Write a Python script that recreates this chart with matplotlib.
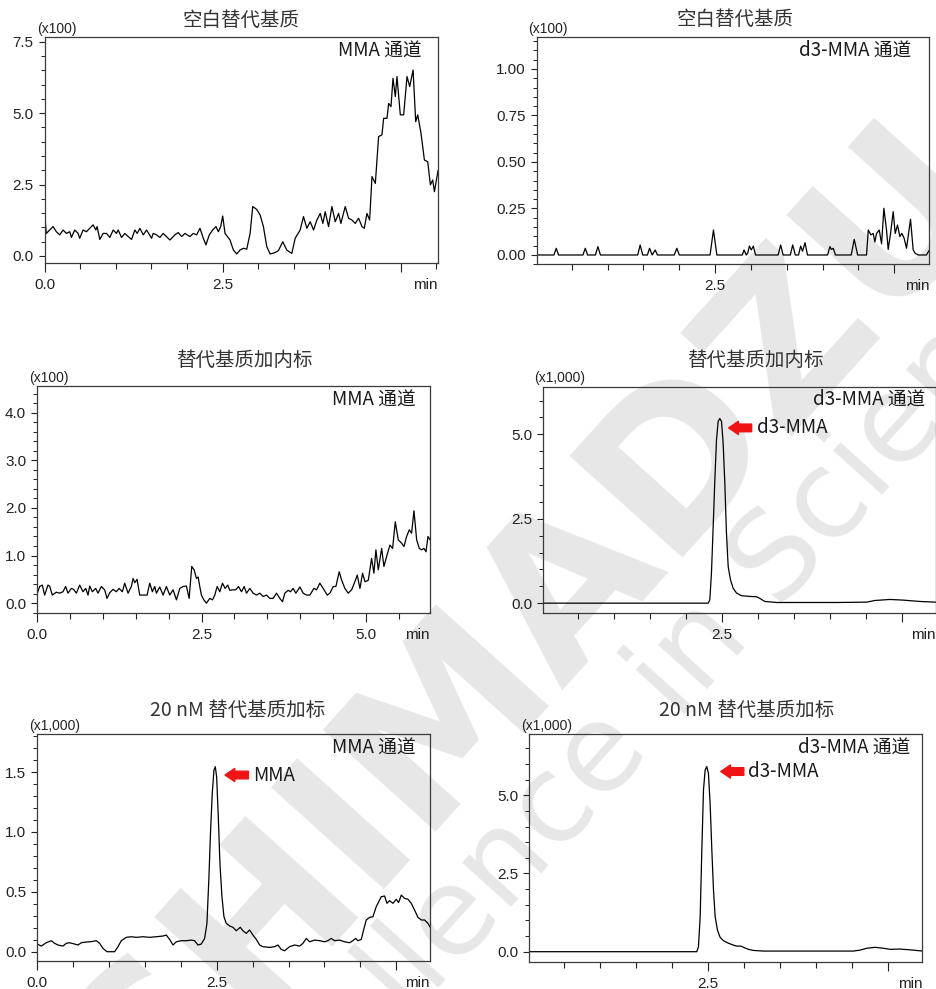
import matplotlib
matplotlib.use("Agg")
import matplotlib.pyplot as plt
from matplotlib.ticker import FixedLocator, MultipleLocator, FixedFormatter

# ---------------- chromatogram data (time in min, intensity in axis units) ----------------
# MMA channel, blank surrogate matrix (x100)
blank_mma_t = [0.000, 0.023, 0.070, 0.117, 0.164, 0.211, 0.258, 0.305, 0.352, 0.375,
               0.422, 0.469, 0.492, 0.539, 0.586, 0.633, 0.680, 0.718, 0.736, 0.774,
               0.821, 0.868, 0.915, 0.962, 1.008, 1.032, 1.079, 1.126, 1.173, 1.220,
               1.266, 1.299, 1.337, 1.384, 1.431, 1.501, 1.524, 1.571, 1.618, 1.665,
               1.759, 1.829, 1.876, 1.923, 1.970, 2.040, 2.087, 2.134, 2.181, 2.228,
               2.265, 2.312, 2.359, 2.406, 2.439, 2.472, 2.500, 2.533, 2.603, 2.650,
               2.697, 2.744, 2.791, 2.838, 2.885, 2.922, 2.978, 3.025, 3.072, 3.119,
               3.166, 3.236, 3.283, 3.344, 3.400, 3.471, 3.518, 3.588, 3.635, 3.682,
               3.729, 3.776, 3.823, 3.870, 3.907, 3.940, 3.987, 4.034, 4.081, 4.128,
               4.160, 4.221, 4.268, 4.315, 4.362, 4.409, 4.456, 4.489, 4.526, 4.564,
               4.597, 4.644, 4.690, 4.737, 4.761, 4.808, 4.831, 4.864, 4.892, 4.925,
               4.948, 4.995, 5.042, 5.089, 5.127, 5.174, 5.211, 5.239, 5.286, 5.333,
               5.380, 5.417, 5.450, 5.474, 5.525]
blank_mma_v = [1.44, 0.79, 0.91, 1.03, 0.85, 0.74, 0.91, 0.79, 0.85, 0.65,
               0.91, 0.79, 0.62, 0.91, 0.85, 0.97, 1.09, 0.91, 1.03, 0.58,
               0.79, 0.79, 0.65, 0.91, 0.79, 0.91, 0.65, 0.79, 0.68, 0.58,
               0.91, 0.79, 0.97, 0.74, 0.91, 0.62, 0.79, 0.74, 0.65, 0.79,
               0.56, 0.74, 0.82, 0.68, 0.79, 0.68, 0.79, 0.74, 0.97, 0.62,
               0.39, 0.74, 0.91, 1.03, 0.85, 1.03, 1.40, 0.79, 0.56, 0.21,
               0.07, 0.21, 0.27, 0.24, 0.79, 1.73, 1.63, 1.44, 1.03, 0.33,
               0.07, 0.12, 0.19, 0.50, 0.21, 0.09, 0.62, 0.91, 1.38, 0.97,
               1.20, 0.91, 1.26, 1.49, 1.14, 1.55, 1.03, 1.73, 1.20, 1.49,
               1.14, 1.73, 1.32, 1.26, 1.14, 1.32, 1.03, 0.97, 1.49, 1.26,
               2.78, 2.54, 4.18, 4.24, 4.82, 4.82, 5.34, 5.23, 6.22, 5.58,
               6.28, 4.94, 4.94, 6.28, 5.93, 6.51, 4.70, 4.94, 4.29, 3.36,
               3.30, 2.49, 2.66, 2.25, 2.99]

# d3-MMA channel, blank surrogate matrix (x100)
blank_d3_t = [0.000, 0.250, 0.283, 0.315, 0.655, 0.688, 0.720, 0.830, 0.864, 0.900,
              1.420, 1.454, 1.490, 1.555, 1.585, 1.622, 1.664, 1.695,
              1.930, 1.966, 2.000, 2.430, 2.477, 2.525,
              2.880, 2.904, 2.935, 2.955, 2.979, 3.005, 3.034, 3.065,
              3.380, 3.415, 3.450, 3.550, 3.583, 3.620,
              3.665, 3.694, 3.720, 3.755, 3.790,
              4.070, 4.103, 4.125, 4.150, 4.180, 4.400, 4.442, 4.490,
              4.614, 4.638, 4.675, 4.707, 4.730, 4.754, 4.791, 4.824, 4.856, 4.893,
              4.916, 4.949, 4.986, 5.014, 5.046, 5.079, 5.107, 5.139, 5.172, 5.195,
              5.228, 5.265, 5.293, 5.335, 5.450, 5.485]
blank_d3_v = [0.000, 0.000, 0.036, 0.000, 0.000, 0.036, 0.000, 0.000, 0.045, 0.000,
              0.000, 0.054, 0.000, 0.000, 0.036, 0.000, 0.027, 0.000,
              0.000, 0.036, 0.000, 0.000, 0.134, 0.000,
              0.000, 0.027, 0.000, 0.010, 0.048, 0.027, 0.048, 0.000,
              0.000, 0.054, 0.000, 0.000, 0.054, 0.000,
              0.000, 0.048, 0.020, 0.066, 0.000,
              0.000, 0.045, 0.030, 0.036, 0.000, 0.000, 0.084, 0.000,
              0.000, 0.134, 0.108, 0.116, 0.070, 0.116, 0.134, 0.060, 0.251, 0.134,
              0.030, 0.116, 0.233, 0.116, 0.161, 0.099, 0.116, 0.090, 0.036, 0.100,
              0.192, 0.027, 0.009, 0.000, 0.000, 0.023]

# MMA channel, surrogate matrix + internal standard (x100)
is_mma_t = [0.000, 0.036, 0.076, 0.112, 0.162, 0.188, 0.228, 0.289, 0.340, 0.391,
            0.431, 0.467, 0.518, 0.553, 0.594, 0.645, 0.695, 0.736, 0.772, 0.797,
            0.838, 0.888, 0.924, 0.975, 1.025, 1.061, 1.102, 1.152, 1.203, 1.244,
            1.294, 1.330, 1.381, 1.431, 1.457, 1.482, 1.518, 1.558, 1.619, 1.670,
            1.711, 1.751, 1.787, 1.812, 1.863, 1.914, 1.964, 2.015, 2.066, 2.117,
            2.168, 2.218, 2.269, 2.310, 2.350, 2.386, 2.421, 2.447, 2.472, 2.497,
            2.533, 2.574, 2.624, 2.665, 2.701, 2.736, 2.777, 2.817, 2.858, 2.898,
            2.929, 2.970, 3.020, 3.061, 3.107, 3.147, 3.183, 3.234, 3.284, 3.335,
            3.386, 3.437, 3.487, 3.538, 3.589, 3.640, 3.690, 3.731, 3.766, 3.817,
            3.853, 3.893, 3.934, 3.995, 4.046, 4.096, 4.147, 4.208, 4.249, 4.299,
            4.350, 4.411, 4.452, 4.503, 4.543, 4.594, 4.629, 4.680, 4.731, 4.782,
            4.832, 4.868, 4.909, 4.949, 4.985, 5.036, 5.086, 5.122, 5.152, 5.188,
            5.239, 5.274, 5.315, 5.365, 5.406, 5.447, 5.492, 5.543, 5.579, 5.619,
            5.660, 5.695, 5.731, 5.772, 5.812, 5.848, 5.883, 5.914, 5.944, 5.985]
is_mma_v = [0.21, 0.35, 0.38, 0.17, 0.38, 0.36, 0.17, 0.23, 0.21, 0.24,
            0.35, 0.21, 0.31, 0.29, 0.21, 0.38, 0.24, 0.31, 0.17, 0.36,
            0.24, 0.31, 0.21, 0.35, 0.28, 0.10, 0.22, 0.29, 0.24, 0.31,
            0.24, 0.42, 0.21, 0.35, 0.52, 0.43, 0.50, 0.17, 0.17, 0.17,
            0.42, 0.24, 0.35, 0.21, 0.34, 0.17, 0.35, 0.17, 0.28, 0.07,
            0.31, 0.35, 0.36, 0.10, 0.77, 0.70, 0.52, 0.55, 0.35, 0.17,
            0.07, 0.00, 0.10, 0.07, 0.17, 0.35, 0.24, 0.42, 0.31, 0.38,
            0.27, 0.28, 0.28, 0.35, 0.24, 0.35, 0.21, 0.31, 0.21, 0.17,
            0.21, 0.14, 0.17, 0.10, 0.10, 0.21, 0.10, 0.03, 0.21, 0.27,
            0.24, 0.31, 0.21, 0.34, 0.21, 0.17, 0.17, 0.31, 0.28, 0.42,
            0.31, 0.17, 0.21, 0.35, 0.35, 0.66, 0.49, 0.31, 0.21, 0.28,
            0.45, 0.59, 0.31, 0.63, 0.45, 0.48, 0.94, 0.63, 1.12, 0.70,
            1.15, 0.77, 0.98, 1.22, 1.15, 1.71, 1.33, 1.26, 1.19, 1.40,
            1.54, 1.47, 1.94, 1.33, 1.15, 1.12, 1.15, 1.08, 1.40, 1.31]

# d3-MMA channel, surrogate matrix + internal standard (x1,000)
is_d3_t = [0.000, 2.305, 2.328, 2.351, 2.375, 2.398, 2.421, 2.444, 2.467, 2.491,
           2.514, 2.537, 2.560, 2.584, 2.616, 2.653, 2.700, 2.770, 2.886, 2.979,
           3.025, 3.095, 3.257, 3.629, 4.094, 4.512, 4.628, 4.837, 5.023, 5.256,
           5.474]
is_d3_v = [0.00, 0.00, 0.10, 0.89, 2.27, 3.65, 4.83, 5.38, 5.47, 5.38,
           4.73, 3.55, 2.07, 1.08, 0.69, 0.44, 0.30, 0.22, 0.20, 0.19,
           0.14, 0.05, 0.02, 0.02, 0.02, 0.03, 0.08, 0.11, 0.09, 0.05,
           0.03]

# MMA channel, 20 nM spiked surrogate matrix (x1,000)
spk_mma_t = [0.000, 0.056, 0.125, 0.195, 0.241, 0.288, 0.357, 0.404, 0.450, 0.520,
             0.566, 0.613, 0.682, 0.752, 0.822, 0.868, 0.915, 0.970, 1.077, 1.124,
             1.170, 1.240, 1.309, 1.379, 1.472, 1.565, 1.657, 1.750, 1.797, 1.843,
             1.890, 1.936, 2.006, 2.075, 2.145, 2.191, 2.238, 2.284, 2.331, 2.363,
             2.391, 2.414, 2.437, 2.461, 2.479, 2.498, 2.521, 2.544, 2.572, 2.600,
             2.632, 2.679, 2.725, 2.772, 2.827, 2.864, 2.911, 2.957, 3.004, 3.050,
             3.097, 3.143, 3.236, 3.306, 3.352, 3.398, 3.445, 3.514, 3.584, 3.654,
             3.700, 3.747, 3.793, 3.863, 3.932, 4.002, 4.048, 4.095, 4.141, 4.211,
             4.280, 4.350, 4.396, 4.434, 4.466, 4.513, 4.545, 4.582, 4.629, 4.675,
             4.721, 4.791, 4.837, 4.870, 4.907, 4.954, 5.000, 5.032, 5.070, 5.116,
             5.163, 5.209, 5.255, 5.302, 5.348, 5.394, 5.441, 5.474]
spk_mma_v = [0.064, 0.047, 0.075, 0.092, 0.070, 0.056, 0.047, 0.070, 0.075, 0.064,
             0.056, 0.075, 0.081, 0.084, 0.092, 0.070, 0.028, 0.000, 0.000, 0.042,
             0.092, 0.120, 0.125, 0.120, 0.125, 0.120, 0.125, 0.131, 0.139, 0.103,
             0.056, 0.083, 0.092, 0.092, 0.097, 0.092, 0.056, 0.064, 0.111, 0.237,
             0.626, 1.016, 1.322, 1.517, 1.545, 1.461, 1.127, 0.738, 0.459, 0.292,
             0.237, 0.215, 0.204, 0.175, 0.204, 0.175, 0.153, 0.181, 0.139, 0.103,
             0.056, 0.042, 0.036, 0.042, 0.056, 0.019, 0.008, 0.042, 0.056, 0.047,
             0.070, 0.111, 0.083, 0.097, 0.092, 0.083, 0.092, 0.111, 0.092, 0.097,
             0.083, 0.075, 0.092, 0.111, 0.092, 0.103, 0.181, 0.265, 0.287, 0.292,
             0.376, 0.459, 0.465, 0.404, 0.426, 0.404, 0.438, 0.410, 0.473, 0.445,
             0.438, 0.404, 0.348, 0.287, 0.265, 0.265, 0.237, 0.204]

# d3-MMA channel, 20 nM spiked surrogate matrix (x1,000)
spk_d3_t = [0.000, 2.347, 2.370, 2.394, 2.417, 2.440, 2.463, 2.486, 2.509, 2.532,
            2.556, 2.579, 2.602, 2.634, 2.671, 2.718, 2.787, 2.856, 2.903, 2.958,
            2.995, 3.065, 3.134, 3.273, 4.523, 4.616, 4.708, 4.824, 4.940, 5.032,
            5.171, 5.356, 5.481]
spk_d3_v = [0.00, 0.00, 0.16, 1.12, 3.25, 5.17, 5.81, 5.92, 5.70, 4.74,
            3.25, 1.97, 1.12, 0.69, 0.46, 0.35, 0.27, 0.21, 0.18, 0.18,
            0.14, 0.075, 0.04, 0.02, 0.02, 0.05, 0.11, 0.14, 0.11, 0.075,
            0.085, 0.05, 0.02]

panel_titles = ["空白替代基质", "空白替代基质", "替代基质加内标", "替代基质加内标",
                "20 nM 替代基质加标", "20 nM 替代基质加标"]
channel_names = ["MMA 通道", "d3-MMA 通道", "MMA 通道", "d3-MMA 通道", "MMA 通道", "d3-MMA 通道"]
scale_labels = ["(x100)", "(x100)", "(x100)", "(x1,000)", "(x1,000)", "(x1,000)"]

# ---------------- figure layout (pixel geometry) ----------------
W, H = 936, 989
fig = plt.figure(figsize=(W / 100, H / 100), dpi=100)
fig.patch.set_facecolor("white")

CJK = ["Noto Sans CJK SC", "DejaVu Sans"]
NUM = ["Liberation Sans", "DejaVu Sans"]
INK = "#1a1a1a"


def fpos(x, y):
    return x / W, 1 - y / H


def rect(l, t, r, b):
    return [l / W, 1 - b / H, (r - l) / W, (b - t) / H]


# faint diagonal watermark behind the panels (runs past the figure edges)
fig.text(*fpos(530, 625), "SHIMADZU", rotation=48, rotation_mode="anchor",
         ha="center", va="center", fontsize=150, fontweight="bold",
         color="#e7e7e7", family=["DejaVu Sans"], zorder=-5)
fig.text(*fpos(630, 725), "Excellence in Science", rotation=48, rotation_mode="anchor",
         ha="center", va="center", fontsize=88, color="#e7e7e7",
         family=["DejaVu Sans"], zorder=-5)

panels = [
    dict(t=blank_mma_t, v=blank_mma_v, box=(44.7, 36.7, 437.7, 263.0),
         xlim=(0.0, 5.52), ylim=(-0.245, 7.675),
         xmaj=[0.0, 2.5, 5.0], xlab=["0.0", "2.5", ""],
         ymaj=[0.0, 2.5, 5.0, 7.5], ymin=0.5, yfmt="{:.1f}",
         title_xy=(241, 20.7), chan_xy=(421.7, 50.7), scale_xy=(37, 29), arrow=None),
    dict(t=blank_d3_t, v=blank_d3_v, box=(536.7, 37.3, 929.3, 264.3),
         xlim=(0.01, 5.49), ylim=(-0.05, 1.17),
         xmaj=[2.5, 5.0], xlab=["2.5", ""],
         ymaj=[0.0, 0.25, 0.5, 0.75, 1.0], ymin=0.05, yfmt="{:.2f}",
         title_xy=(735, 19), chan_xy=(911.7, 50), scale_xy=(527.7, 29), arrow=None),
    dict(t=is_mma_t, v=is_mma_v, box=(37.3, 386.0, 430.0, 612.7),
         xlim=(0.0, 5.975), ylim=(-0.2, 4.56),
         xmaj=[0.0, 2.5, 5.0], xlab=["0.0", "2.5", "5.0"],
         ymaj=[0.0, 1.0, 2.0, 3.0, 4.0], ymin=0.2, yfmt="{:.1f}",
         title_xy=(244, 360), chan_xy=(416, 400), scale_xy=(29, 378), arrow=None),
    dict(t=is_d3_t, v=is_d3_v, box=(543.3, 386.7, 935.5, 613.3),
         xlim=(0.01, 5.47), ylim=(-0.3, 6.41),
         xmaj=[2.5, 5.0], xlab=["2.5", ""],
         ymaj=[0.0, 2.5, 5.0], ymin=0.5, yfmt="{:.1f}",
         title_xy=(755, 360), chan_xy=(925, 399.3), scale_xy=(534, 378),
         arrow=dict(tip=(2.59, 5.19), tail=(2.91, 5.19), text_x=2.98, text="d3-MMA")),
    dict(t=spk_mma_t, v=spk_mma_v, box=(37.3, 734.3, 430.0, 960.7),
         xlim=(0.0, 5.47), ylim=(-0.075, 1.815),
         xmaj=[0.0, 2.5, 5.0], xlab=["0.0", "2.5", ""],
         ymaj=[0.0, 0.5, 1.0, 1.5], ymin=0.1, yfmt="{:.1f}",
         title_xy=(237.5, 710.7), chan_xy=(416, 748.3), scale_xy=(29, 726),
         arrow=dict(tip=(2.615, 1.475), tail=(2.94, 1.475), text_x=3.007, text="MMA")),
    dict(t=spk_d3_t, v=spk_d3_v, box=(529.3, 734.3, 922.3, 961.7),
         xlim=(0.02, 5.48), ylim=(-0.32, 6.95),
         xmaj=[2.5, 5.0], xlab=["2.5", ""],
         ymaj=[0.0, 2.5, 5.0], ymin=0.5, yfmt="{:.1f}",
         title_xy=(747, 710.7), chan_xy=(910, 746.7), scale_xy=(521, 726),
         arrow=dict(tip=(2.68, 5.76), tail=(3.0, 5.76), text_x=3.06, text="d3-MMA")),
]

for i, p in enumerate(panels):
    ax = fig.add_axes(rect(*p["box"]))
    ax.set_facecolor("none")
    ax.plot(p["t"], p["v"], color="black", lw=0.9, solid_joinstyle="round")
    ax.set_xlim(*p["xlim"])
    ax.set_ylim(*p["ylim"])

    for side in ("top", "right", "bottom", "left"):
        ax.spines[side].set_color("#3a3a3a")
        ax.spines[side].set_linewidth(0.9)

    ax.xaxis.set_major_locator(FixedLocator(p["xmaj"]))
    ax.xaxis.set_major_formatter(FixedFormatter(p["xlab"]))
    ax.xaxis.set_minor_locator(MultipleLocator(0.5))
    ax.yaxis.set_major_locator(FixedLocator(p["ymaj"]))
    ax.yaxis.set_major_formatter(FixedFormatter([p["yfmt"].format(y) for y in p["ymaj"]]))
    ax.yaxis.set_minor_locator(MultipleLocator(p["ymin"]))

    ax.tick_params(axis="x", which="major", direction="out", length=6.5, width=0.8,
                   pad=4.3, labelsize=11, colors="#222222")
    ax.tick_params(axis="x", which="minor", direction="out", length=4.5, width=0.8,
                   colors="#222222")
    ax.tick_params(axis="y", which="major", direction="out", length=4.5, width=0.8,
                   pad=3.5, labelsize=11, colors="#222222")
    ax.tick_params(axis="y", which="minor", direction="out", length=3.0, width=0.7,
                   colors="#222222")
    for lab in ax.get_xticklabels() + ax.get_yticklabels():
        lab.set_family(NUM)

    ax.annotate("min", xy=(1, 0), xycoords="axes fraction", xytext=(0, -10.8),
                textcoords="offset points", ha="right", va="top", fontsize=11,
                family=NUM, color="#222222")

    fig.text(*fpos(*p["scale_xy"]), scale_labels[i], ha="left", va="center",
             fontsize=10, family=NUM, color="#222222")
    fig.text(*fpos(*p["title_xy"]), panel_titles[i], ha="center", va="center",
             fontsize=14, family=CJK, color="#333333")
    fig.text(*fpos(*p["chan_xy"]), channel_names[i], ha="right", va="center",
             fontsize=13.5, family=CJK, color=INK)

    arr = p["arrow"]
    if arr is not None:
        ax.annotate("", xy=arr["tip"], xytext=arr["tail"], xycoords="data",
                    arrowprops=dict(arrowstyle="simple,head_length=0.7,head_width=0.95,tail_width=0.55",
                                    color="#f01414", mutation_scale=10,
                                    shrinkA=0, shrinkB=0))
        ax.text(arr["text_x"], arr["tip"][1], arr["text"], ha="left", va="center",
                fontsize=13.5, family=CJK, color=INK)

fig.savefig("out.png", dpi=100, facecolor="white")
